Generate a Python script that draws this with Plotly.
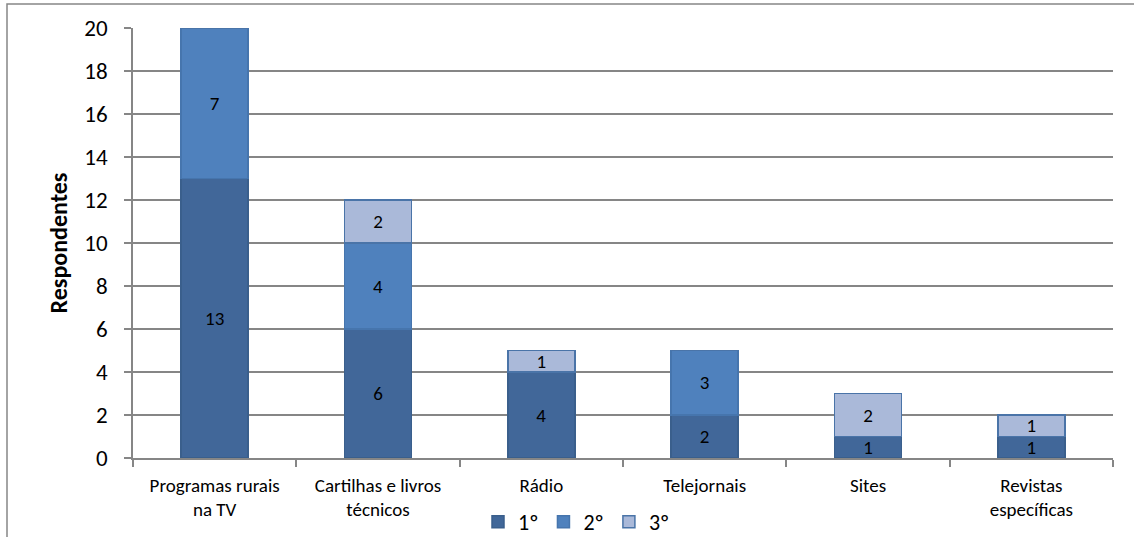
import plotly.graph_objects as go

categories = ["Programas rurais<br>na TV", "Cartilhas e livros<br>técnicos", "Rádio",
              "Telejornais", "Sites", "Revistas<br>específicas"]
series_names = ["1º", "2º", "3º"]
v1 = [13, 6, 4, 2, 1, 1]
v2 = [7, 4, 0, 3, 0, 0]
v3 = [0, 2, 1, 0, 2, 1]
y_ticks = [0, 2, 4, 6, 8, 10, 12, 14, 16, 18, 20]

fills = ["#416799", "#4F81BD", "#AAB9D9"]
lines = ["#3A5F8C", "#4675AD", "#4A74A8"]

FONT = "Carlito, Calibri, Lato, sans-serif"

fig = go.Figure()
for name, vals, fc, lc in zip(series_names, [v1, v2, v3], fills, lines):
    fig.add_trace(go.Bar(
        x=categories, y=vals, name=name,
        marker=dict(color=fc, line=dict(color=lc, width=1.5)),
        text=[str(v) if v else "" for v in vals],
        textposition="inside", insidetextanchor="middle",
        textfont=dict(family=FONT, size=19, color="#000000"),
        constraintext="none", textangle=0,
        width=0.41, hoverinfo="skip",
    ))

W, H = 1134, 537
L, R, T, B = 133, 21, 28, 79
pw, ph = W - L - R, H - T - B

fig.update_layout(
    width=W, height=H,
    barmode="stack",
    margin=dict(l=L, r=R, t=T, b=B, autoexpand=False),
    plot_bgcolor="white", paper_bgcolor="white",
    font=dict(family=FONT, color="#000000"),
    showlegend=True,
    legend=dict(orientation="h", x=(478 - L) / pw, xanchor="left",
                y=-(522 - (T + ph)) / ph, yanchor="middle",
                font=dict(family=FONT, size=22), traceorder="normal",
                itemwidth=30, bgcolor="rgba(0,0,0,0)"),
    xaxis=dict(showline=True, linecolor="#868686", linewidth=1.5,
               ticks="outside", ticklen=7, tickcolor="#868686", tickwidth=1.5,
               tickson="boundaries", ticklabelstandoff=9,
               tickfont=dict(family=FONT, size=19), showgrid=False),
    yaxis=dict(range=[0, 20], tickvals=y_ticks, showline=True,
               linecolor="#868686", linewidth=1.5,
               ticks="outside", ticklen=7, tickcolor="#868686", tickwidth=1.5,
               ticklabelstandoff=12,
               showgrid=True, gridcolor="#868686", gridwidth=1.5,
               tickfont=dict(family=FONT, size=23),
               title=dict(text="<b>Respondentes</b>", font=dict(family=FONT, size=24),
                          standoff=10),
               zeroline=False),
    shapes=[dict(type="rect", xref="paper", yref="paper",
                 x0=(7 - L) / pw, x1=(W + 5 - L) / pw,
                 y0=-(H + 5 - (T + ph)) / ph, y1=((T + ph) - 4) / ph,
                 line=dict(color="#868686", width=1.5), fillcolor="rgba(0,0,0,0)",
                 layer="below")],
)

fig.write_html("out.html")
